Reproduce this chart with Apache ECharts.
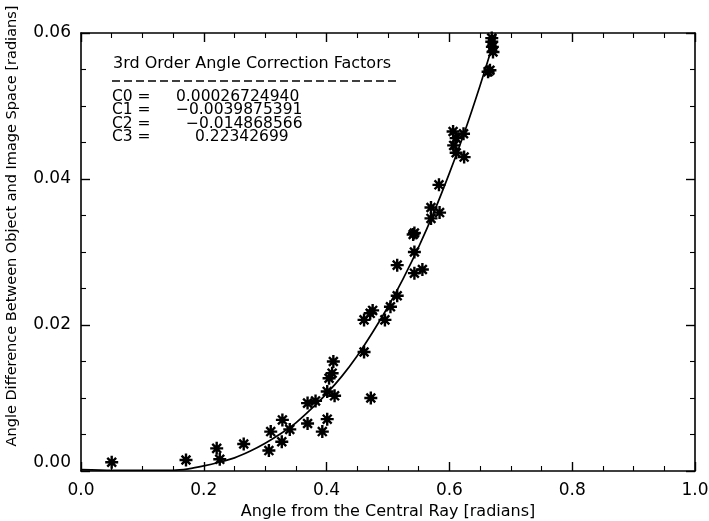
<!DOCTYPE html>
<html>
<head>
<meta charset="utf-8">
<script src="https://cdn.jsdelivr.net/npm/echarts@6/dist/echarts.min.js"></script>
<style>html,body{margin:0;padding:0;background:#fff}#c{width:709px;height:521px}</style>
</head>
<body>
<div id="c"></div>
<script>
// Measured points: angle from central ray (rad) and angle difference (rad)
const angleX = [0.050,0.171,0.221,0.226,0.265,0.309,0.306,0.327,0.328,0.340,0.369,0.369,0.382,0.393,0.401,0.401,0.413,0.404,0.409,0.411,0.472,0.461,0.461,0.471,0.475,0.495,0.504,0.515,0.515,0.543,0.556,0.543,0.543,0.541,0.570,0.570,0.584,0.583,0.607,0.611,0.624,0.611,0.606,0.623,0.663,0.666,0.669,0.670,0.671,0.669];
const angleDiff = [0.0012,0.0015,0.0031,0.0016,0.0037,0.0054,0.0028,0.0040,0.0070,0.0057,0.0065,0.0093,0.0096,0.0054,0.0071,0.0109,0.0103,0.0127,0.0134,0.0150,0.0100,0.0163,0.0207,0.0216,0.0220,0.0207,0.0225,0.0240,0.0282,0.0271,0.0276,0.0300,0.0326,0.0324,0.0346,0.0361,0.0354,0.0392,0.0446,0.0436,0.0430,0.0456,0.0465,0.0462,0.0547,0.0549,0.0588,0.0581,0.0574,0.0593];
// Fitted curve
const fitX = [0.00,0.05,0.10,0.15,0.175,0.20,0.225,0.25,0.275,0.30,0.325,0.35,0.375,0.40,0.425,0.45,0.475,0.50,0.525,0.55,0.575,0.60,0.625,0.65,0.676];
const fitY = [0.0002,0.0001,0.0001,0.0001,0.0003,0.0007,0.0012,0.0018,0.0027,0.0038,0.0051,0.0066,0.0085,0.0106,0.0130,0.0158,0.0190,0.0225,0.0264,0.0307,0.0355,0.0408,0.0465,0.0528,0.0598];
// Annotation text
const yName = 'Angle Difference Between Object and Image Space [radians]';
const xName = 'Angle from the Central Ray [radians]';
const legendTitle = '3rd Order Angle Correction Factors';
const coefNames = ['C0 =','C1 =','C2 =','C3 ='];
const coefValues = ['0.00026724940','\u22120.0039875391','\u22120.014868566','0.22342699'];
const coefValueX = [176,176,186,195];

const FONT = 'DejaVu Sans';
const chart = echarts.init(document.getElementById('c'), null, {renderer:'canvas'});
const star = 'path://M0 5 L10 5 M5 0 L5 10 M1.6 1.6 L8.4 8.4 M8.4 1.6 L1.6 8.4';

const axisCommon = {
  min: 0,
  axisLine:{show:true, onZero:false, lineStyle:{color:'#000', width:1.6}},
  axisTick:{show:true, inside:true, length:9, lineStyle:{color:'#000', width:1.4}},
  minorTick:{show:true, splitNumber:4, length:5, lineStyle:{color:'#000', width:1.1}},
  splitLine:{show:false}
};

const AF = '15.5px "'+FONT+'"';
const graphics = [
  {type:'text', x:12, y:226, rotation:Math.PI/2, style:{text:yName, font:'14.5px "'+FONT+'"', fill:'#000', align:'center', verticalAlign:'middle'}},
  {type:'text', left:113, top:56, style:{text:legendTitle, font:'16px "'+FONT+'"', fill:'#000'}},
  {type:'line', shape:{x1:112,y1:81,x2:396,y2:81}, style:{stroke:'#000', lineWidth:1.4, lineDash:[8,4]}}
];
coefNames.forEach((n,i)=>{
  graphics.push({type:'text', left:112, top:89+i*13.4, style:{text:n, font:AF, fill:'#000'}});
  graphics.push({type:'text', left:coefValueX[i], top:89+i*13.4, style:{text:coefValues[i], font:AF, fill:'#000'}});
});

chart.setOption({
  animation:false,
  backgroundColor:'#fff',
  grid:{left:81, top:33, right:14, bottom:50, containLabel:false, outerBoundsMode:'none'},
  xAxis:[
    Object.assign({}, axisCommon, {type:'value', position:'bottom', max:1.0, interval:0.2,
      name:xName, nameLocation:'middle', nameGap:29,
      nameTextStyle:{fontFamily:FONT, fontSize:16, color:'#000'},
      axisLabel:{fontFamily:FONT, fontSize:17, color:'#000', margin:11, formatter:v=>v.toFixed(1)}}),
    Object.assign({}, axisCommon, {type:'value', position:'top', max:1.0, interval:0.2, axisLabel:{show:false}})
  ],
  yAxis:[
    Object.assign({}, axisCommon, {type:'value', position:'left', max:0.06, interval:0.02,
      axisLabel:{fontFamily:FONT, fontSize:17, color:'#000', margin:10, verticalAlignMinLabel:'bottom', formatter:v=>v.toFixed(2)}}),
    Object.assign({}, axisCommon, {type:'value', position:'right', max:0.06, interval:0.02, axisLabel:{show:false}})
  ],
  series:[
    {type:'line', data:fitX.map((x,i)=>[x,fitY[i]]), smooth:0.25, showSymbol:false, symbol:'none',
      lineStyle:{color:'#000', width:1.7}, clip:true, z:2},
    {type:'scatter', data:angleX.map((x,i)=>[x,angleDiff[i]]), symbol:star, symbolSize:13,
      itemStyle:{color:'rgba(0,0,0,0)', borderColor:'#000', borderWidth:2.4, opacity:1}, z:3}
  ],
  graphic:graphics
});
</script>
</body>
</html>
